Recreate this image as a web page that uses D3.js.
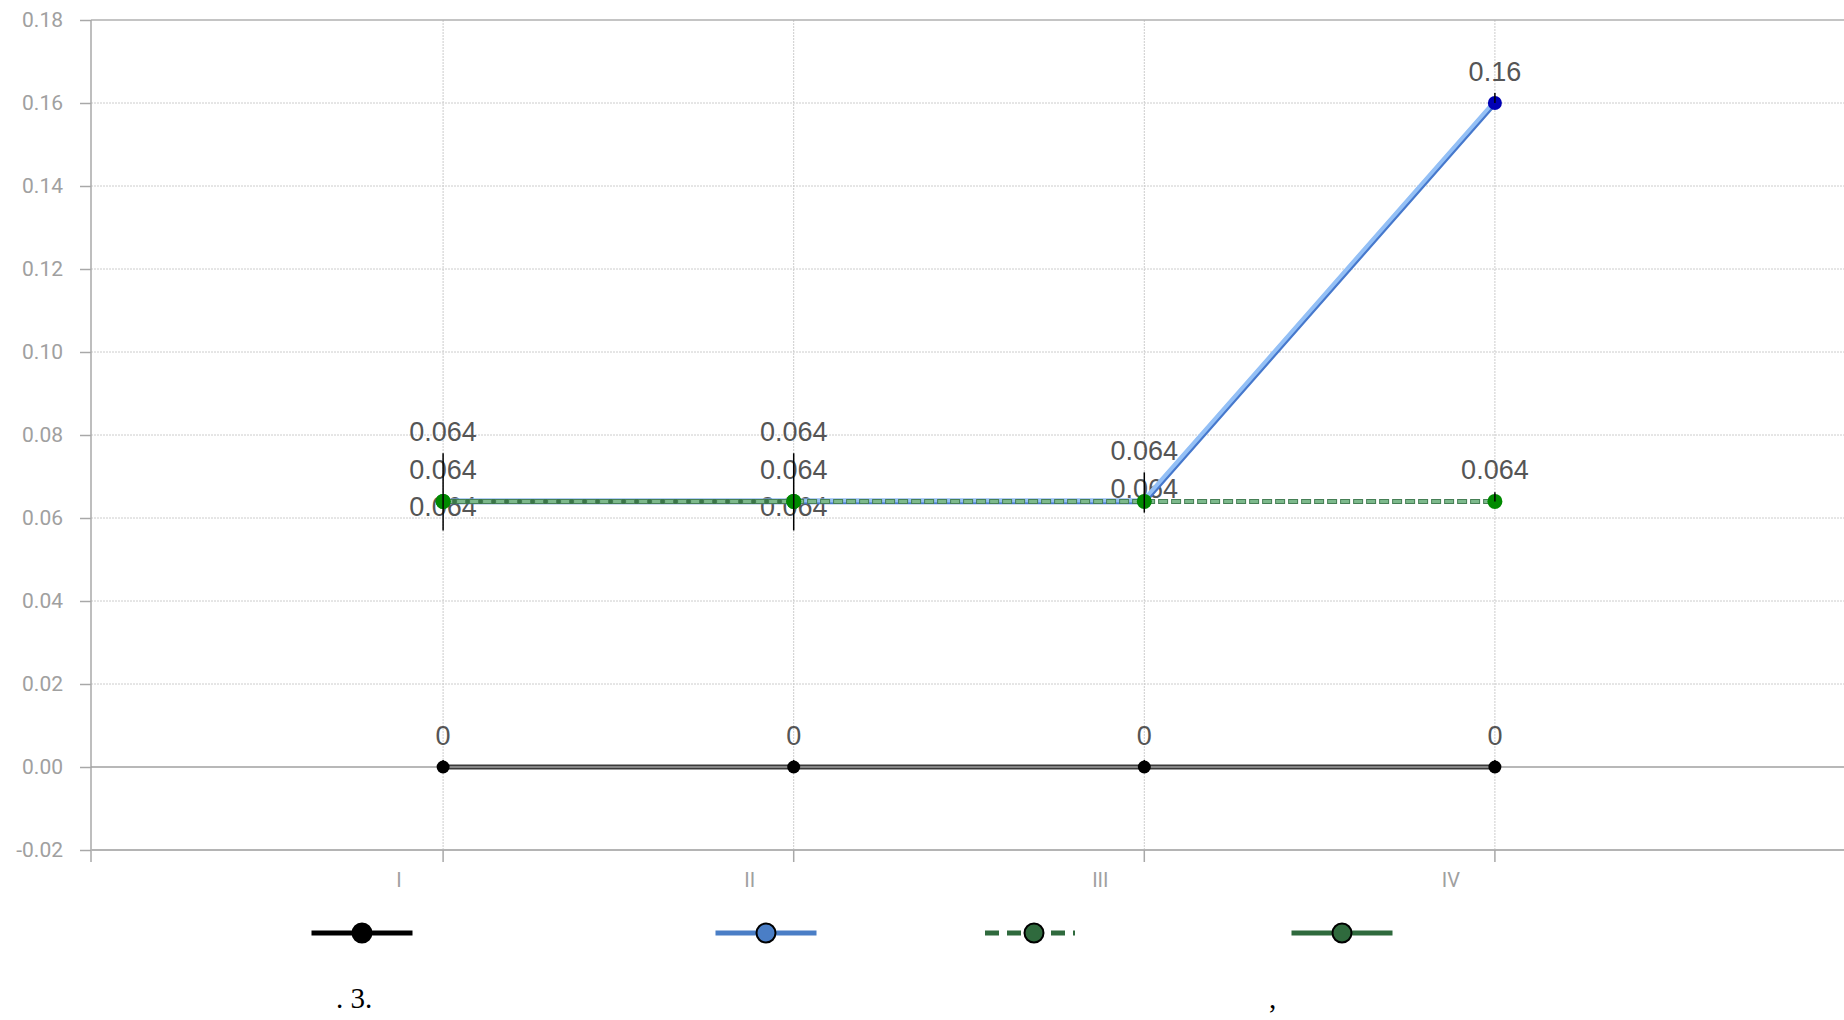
<!DOCTYPE html>
<html>
<head>
<meta charset="utf-8">
<script src="https://cdn.jsdelivr.net/npm/d3@7"></script>
<style>
  html, body { margin: 0; padding: 0; background: #fff; }
  svg { display: block; }
</style>
</head>
<body>
<svg id="chart" width="1844" height="1020"></svg>
<script>
// ---------- data ----------
const categories = ["I", "II", "III", "IV"];
const yTicks = [-0.02, 0.00, 0.02, 0.04, 0.06, 0.08, 0.10, 0.12, 0.14, 0.16, 0.18];

const seriesBlack       = [0, 0, 0, 0];
const seriesBlue        = [0.064, 0.064, 0.064, 0.16];
const seriesGreenDashed = [0.064, 0.064, 0.064, 0.064];
const seriesGreenSolid  = [0.064, 0.064, null, null];

// error bar extents (value units)
const errUpBlack  = [0.0017, 0.0017, 0.0017, 0.0017];
const errUpBlue   = [0, 0, 0, 0.0024];
const errUpGreen  = [0.0116, 0.0116, 0.0070, 0.0022];
const errDnGreen  = [0.0070, 0.0070, 0.0027, 0];

const captionLeft = ". 3.";
const captionRight = ",";

(function () {
// ---------- layout ----------
const svg = d3.select("#chart");
const pLeft = 91, pRight = 1844, pTop = 20, pBottom = 850;

const x = d3.scalePoint().domain(categories).range([pLeft + 1.5, pRight + 1.5]).padding(1);
const y = d3.scaleLinear().domain([-0.02, 0.18]).range([pBottom, pTop]);

const series = [
  { key: "black", values: seriesBlack, up: errUpBlack, dn: null, label: true },
  { key: "blue", values: seriesBlue, up: errUpBlue, dn: null, label: true },
  { key: "gdash", values: seriesGreenDashed, up: errUpGreen, dn: errDnGreen, label: true },
  { key: "gsolid", values: seriesGreenSolid, up: null, dn: null, label: true }
];

// ---------- grid ----------
const grid = svg.append("g");
grid.selectAll("line.h").data(yTicks.filter(t => t !== 0.18 && t !== -0.02 && t !== 0)).enter()
  .append("line")
  .attr("x1", pLeft).attr("x2", pRight)
  .attr("y1", d => y(d)).attr("y2", d => y(d))
  .attr("stroke", "#cccccc").attr("stroke-width", 1).attr("stroke-dasharray", "2,1");
grid.selectAll("line.v").data(categories).enter()
  .append("line")
  .attr("x1", d => x(d)).attr("x2", d => x(d))
  .attr("y1", pTop).attr("y2", pBottom)
  .attr("stroke", "#cccccc").attr("stroke-width", 1).attr("stroke-dasharray", "2,1");
grid.append("line").attr("x1", pLeft).attr("x2", pRight)
  .attr("y1", y(0.18)).attr("y2", y(0.18))
  .attr("stroke", "#b0b0b0").attr("stroke-width", 1.5);

// ---------- y axis ----------
const fmtY = d => d3.format(".2f")(d).replace("\u2212", "-");
const yAxis = d3.axisLeft(y).tickValues(yTicks).tickFormat(fmtY).tickSize(11).tickPadding(17);
const gy = svg.append("g").attr("transform", `translate(${pLeft},0)`).call(yAxis);
gy.select(".domain").remove();
gy.selectAll(".tick line").attr("stroke", "#a8a8a8").attr("stroke-width", 1.5);
gy.selectAll(".tick text").attr("fill", "#a0a0a0")
  .style("font-family", "Roboto, 'Liberation Sans', Arial, sans-serif").style("font-size", "21px");
svg.append("line").attr("x1", pLeft).attr("x2", pLeft).attr("y1", pTop).attr("y2", pBottom + 12)
  .attr("stroke", "#a8a8a8").attr("stroke-width", 1.5);

// ---------- x axis ----------
const gx = svg.append("g");
gx.append("line").attr("x1", pLeft).attr("x2", pRight).attr("y1", pBottom).attr("y2", pBottom)
  .attr("stroke", "#b4b4b4").attr("stroke-width", 2);
gx.selectAll("line.t").data(categories).enter().append("line")
  .attr("x1", d => x(d)).attr("x2", d => x(d)).attr("y1", pBottom).attr("y2", pBottom + 12)
  .attr("stroke", "#a8a8a8").attr("stroke-width", 1.5);
gx.selectAll("text").data(categories).enter().append("text")
  .attr("x", d => x(d) - 44).attr("y", pBottom + 37)
  .attr("text-anchor", "middle").attr("fill", "#a0a0a0")
  .style("font-family", "Roboto, 'Liberation Sans', Arial, sans-serif").style("font-size", "20px")
  .text(d => d);

// ---------- data labels (spread overlapping ones) ----------
const labels = [];
categories.forEach((c, i) => {
  const items = [];
  series.forEach(s => {
    const v = s.values[i];
    if (v === null || !s.label) return;
    items.push({ c, v, base: y(v) - 22.5 });
  });
  items.sort((a, b) => a.base - b.base);
  const groups = [];
  items.forEach(it => {
    const g = groups.find(g => Math.abs(g[0].base - it.base) < 30);
    if (g) g.push(it); else groups.push([it]);
  });
  groups.forEach(g => {
    const n = g.length;
    g.forEach((it, k) => {
      labels.push({ c, v: it.v, yy: it.base + (k - (n - 1) / 2) * 37.5 });
    });
  });
});
const fmt = v => v === 0 ? "0" : String(v);
svg.append("g").selectAll("text").data(labels).enter().append("text")
  .attr("x", d => x(d.c)).attr("y", d => d.yy)
  .attr("text-anchor", "middle").attr("fill", "#555")
  .style("font-family", "'Liberation Sans', Arial, sans-serif").style("font-size", "27px")
  .text(d => fmt(d.v));

// ---------- lines ----------
const lineGen = vals => d3.line()
  .defined(d => d.v !== null)
  .x(d => x(d.c)).y(d => y(d.v))(categories.map((c, i) => ({ c, v: vals[i] })));

const lines = svg.append("g");
lines.append("path").attr("d", lineGen(seriesBlack)).attr("fill", "none")
  .attr("stroke", "#3a3a3a").attr("stroke-width", 5);
lines.append("line").attr("x1", pLeft).attr("x2", pRight).attr("y1", y(0)).attr("y2", y(0))
  .attr("stroke", "#a0a0a0").attr("stroke-width", 1.3);
lines.append("path").attr("d", lineGen(seriesBlue)).attr("fill", "none")
  .attr("stroke", "#4678cc").attr("stroke-width", 5.5);
lines.append("path").attr("d", lineGen(seriesBlue)).attr("fill", "none")
  .attr("transform", "translate(-1,-1)")
  .attr("stroke", "#94c0f6").attr("stroke-width", 4);
lines.append("path").attr("d", lineGen(seriesGreenSolid)).attr("fill", "none")
  .attr("stroke", "#3a7648").attr("stroke-width", 5);
lines.append("path").attr("d", lineGen(seriesGreenDashed)).attr("fill", "none")
  .attr("stroke", "#467f55").attr("stroke-width", 5).attr("stroke-dasharray", "10,3");
lines.append("path").attr("d", lineGen(seriesGreenDashed)).attr("fill", "none")
  .attr("stroke", "#7db98c").attr("stroke-width", 3).attr("stroke-dasharray", "8,5")
  .attr("stroke-dashoffset", -1);

// ---------- points ----------
const pts = svg.append("g");
pts.selectAll("circle.k").data(categories).enter().append("circle")
  .attr("cx", d => x(d)).attr("cy", (d, i) => y(seriesBlack[i])).attr("r", 6.5).attr("fill", "#000");
pts.selectAll("circle.b").data(categories).enter().append("circle")
  .attr("cx", d => x(d)).attr("cy", (d, i) => y(seriesBlue[i])).attr("r", 7).attr("fill", "#0000b4");
pts.selectAll("circle.gs").data(categories.filter((c, i) => seriesGreenSolid[i] !== null)).enter().append("circle")
  .attr("cx", d => x(d)).attr("cy", d => y(seriesGreenSolid[categories.indexOf(d)])).attr("r", 7.5).attr("fill", "#008a00");
pts.selectAll("circle.g").data(categories).enter().append("circle")
  .attr("cx", d => x(d)).attr("cy", (d, i) => y(seriesGreenDashed[i])).attr("r", 7.5).attr("fill", "#008a00");

// ---------- error bars ----------
const eb = svg.append("g");
series.forEach(s => {
  categories.forEach((c, i) => {
    const v = s.values[i];
    if (v === null) return;
    const u = s.up ? s.up[i] : 0, dn = s.dn ? s.dn[i] : 0;
    if (!u && !dn) return;
    eb.append("line").attr("x1", x(c)).attr("x2", x(c))
      .attr("y1", y(v + u)).attr("y2", y(v - dn))
      .attr("stroke", "#000").attr("stroke-width", 1.5);
  });
});

// ---------- legend (symbols only) ----------
const legendY = 933;
const legendItems = [
  { cx: 362, len: 101, color: "#000", marker: "#000", dash: null },
  { cx: 766, len: 101, color: "#4a7ec6", marker: "#4a7ec6", dash: null },
  { cx: 1030, len: 90, color: "#2f6a3d", marker: "#2f6a3d", dash: "14,8" },
  { cx: 1342, len: 101, color: "#2f6a3d", marker: "#2f6a3d", dash: null }
];
const lg = svg.append("g");
legendItems.forEach(it => {
  lg.append("line").attr("x1", it.cx - it.len / 2).attr("x2", it.cx + it.len / 2)
    .attr("y1", legendY).attr("y2", legendY)
    .attr("stroke", it.color).attr("stroke-width", 5)
    .attr("stroke-dasharray", it.dash);
  lg.append("circle").attr("cx", it.cx + (it.dash ? 4 : 0)).attr("cy", legendY).attr("r", 9.5)
    .attr("fill", it.marker).attr("stroke", "#000").attr("stroke-width", 2);
});

// ---------- caption ----------
svg.append("text").attr("x", 336).attr("y", 1008)
  .style("font-family", "'Liberation Serif', 'Times New Roman', serif").style("font-size", "29px")
  .attr("fill", "#000").text(captionLeft);
svg.append("text").attr("x", 1269).attr("y", 1008)
  .style("font-family", "'Liberation Serif', 'Times New Roman', serif").style("font-size", "29px")
  .attr("fill", "#000").text(captionRight);
})();
</script>
</body>
</html>
